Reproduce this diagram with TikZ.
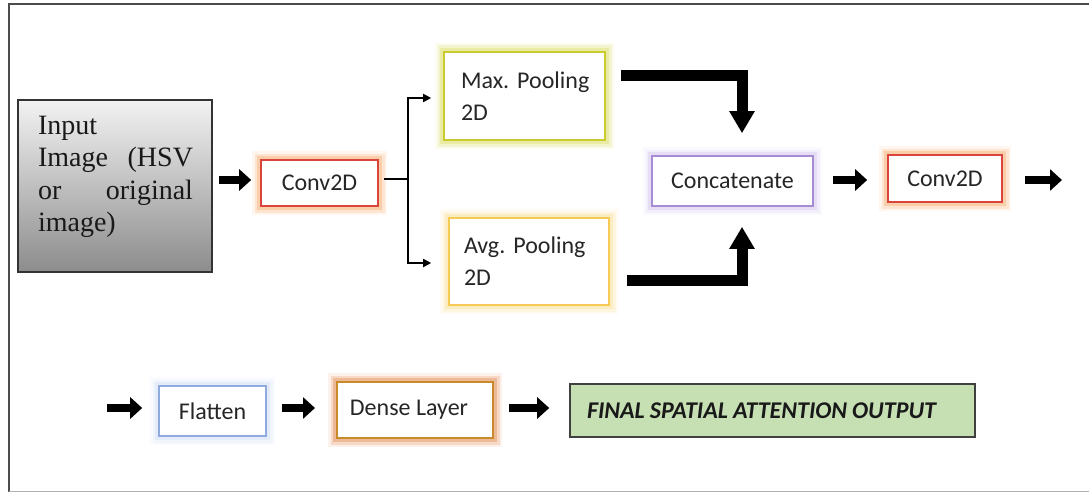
\documentclass[tikz,border=0pt]{standalone}
\usepackage{fontspec}
\setmainfont{Carlito}
\newfontfamily\serifface{Liberation Serif}
\usetikzlibrary{arrows.meta,calc}
\frenchspacing

\definecolor{convred}{HTML}{D9443C}
\definecolor{convglow}{HTML}{F9B27A}
\definecolor{maxborder}{HTML}{C8CC2C}
\definecolor{maxglow}{HTML}{DCE070}
\definecolor{avgborder}{HTML}{F6CB55}
\definecolor{avgglow}{HTML}{FBE2A0}
\definecolor{catborder}{HTML}{A68CD2}
\definecolor{catglow}{HTML}{D8CCF0}
\definecolor{flatborder}{HTML}{8FAADC}
\definecolor{flatglow}{HTML}{D6E1F5}
\definecolor{denseborder}{HTML}{C98A2C}
\definecolor{denseglow}{HTML}{E5925C}
\definecolor{finalfill}{HTML}{C6E0B4}

\tikzset{
  layer/.style={draw=#1, line width=1.6pt, fill=white, inner sep=0pt,
    font=\fontsize{24}{32}\selectfont, text=black!85},
  glow/.style={preaction={draw=#1, line width=18pt, draw opacity=0.12},
               preaction={draw=#1, line width=13pt, draw opacity=0.25},
               preaction={draw=#1, line width=8pt, draw opacity=0.45}},
  blockarrow/.style={line width=8pt, -{Triangle[length=12pt,width=21pt]}},
  bigarrow/.style={line width=11pt, line join=miter,
    -{Triangle[length=22pt,width=24pt]}},
  thinarrow/.style={line width=1.8pt, -{Triangle[length=8pt,width=8pt]}},
}

\begin{document}
\begin{tikzpicture}[x=1pt,y=-1pt]
\useasboundingbox (0,0) rectangle (1089,492);

% outer frame
\draw[line width=2.2pt, black!70] (9,492) -- (9,4) -- (1089,4);
\draw[line width=1pt, black!30] (9,491) -- (1089,491);

% input block
\node[draw=black!80, line width=1.5pt, top color=black!5, bottom color=black!45,
      minimum width=194pt, minimum height=172pt, inner sep=0pt] (input) at (115,186) {};
\node[font=\serifface\fontsize{28}{32.5}\selectfont, text width=155pt, align=left,
      inner sep=0pt, text=black!90] (inputlbl) at (115.5,177)
  {Input\\ \makebox[155pt]{Image\hfill(HSV}\\ \makebox[155pt]{or\hfill original}\\ image)};

% upper row
\node[layer=convred, glow=convglow, minimum width=117pt, minimum height=46pt] (c1) at (319.5,183) {Conv2D};
\node[layer=maxborder, glow=maxglow, minimum width=161pt, minimum height=88pt,
      text width=127pt, align=left] (maxp) at (524.5,96) {\mbox{Max. Pooling}\\2D};
\node[layer=avgborder, glow=avgglow, minimum width=160pt, minimum height=87pt,
      text width=130pt, align=left] (avgp) at (529,261.5) {\mbox{Avg. Pooling}\\2D};
\node[layer=catborder, glow=catglow, minimum width=161pt, minimum height=50pt] (concat) at (732.5,181) {Concatenate};
\node[layer=convred, glow=convglow, minimum width=114pt, minimum height=47pt] (c2) at (945,178.5) {Conv2D};
\coordinate (out1) at (1062,180);

% lower row
\coordinate (in2) at (107,408);
\node[layer=flatborder, glow=flatglow, minimum width=107pt, minimum height=50pt] (flat) at (212.5,411) {Flatten};
\node[layer=denseborder, glow=denseglow, line width=2pt, minimum width=156pt, minimum height=56pt] (dense) at (415,410) {\raisebox{4pt}{Dense Layer}\hspace*{12pt}};
\node[draw=black!75, line width=1.6pt, fill=finalfill, minimum width=405pt, minimum height=53pt,
      text width=371pt, align=left, inner sep=0pt,
      font=\fontsize{24}{28}\selectfont\bfseries\itshape, text=black!90] (final) at (772.5,410.5)
  {\spaceskip=5pt FINAL SPATIAL ATTENTION OUTPUT};

% connectors, upper row
\draw[blockarrow] ($(input.east |- 0,180)+(6,0)$) -- ($(c1.west |- 0,180)+(-9,0)$);
\coordinate (split) at (408,179);
\draw[line width=1.8pt] ($(c1.east |- split)+(5,0)$) -- (split);
\draw[thinarrow] (split) |- ($(maxp.west |- 0,98)+(-12,0)$);
\draw[thinarrow] (split) |- ($(avgp.west |- 0,263)+(-17,0)$);
\draw[bigarrow] ($(maxp.east |- 0,76)+(15,0)$) -| ($(concat.north)+(9.5,-22)$);
\draw[bigarrow] ($(avgp.east |- 0,280)+(17,0)$) -| ($(concat.south)+(9.5,20)$);
\draw[blockarrow] ($(concat.east |- 0,180)+(19,0)$) -- ($(c2.west |- 0,180)+(-20,0)$);
\draw[blockarrow] ($(c2.east |- out1)+(22,0)$) -- (out1);

% connectors, lower row
\draw[blockarrow] (in2) -- ($(flat.west |- in2)+(-16,0)$);
\draw[blockarrow] ($(flat.east |- in2)+(15,0)$) -- ($(dense.west |- in2)+(-21,0)$);
\draw[blockarrow] ($(dense.east |- in2)+(15,0)$) -- ($(final.west |- in2)+(-20,0)$);
\end{tikzpicture}
\end{document}
